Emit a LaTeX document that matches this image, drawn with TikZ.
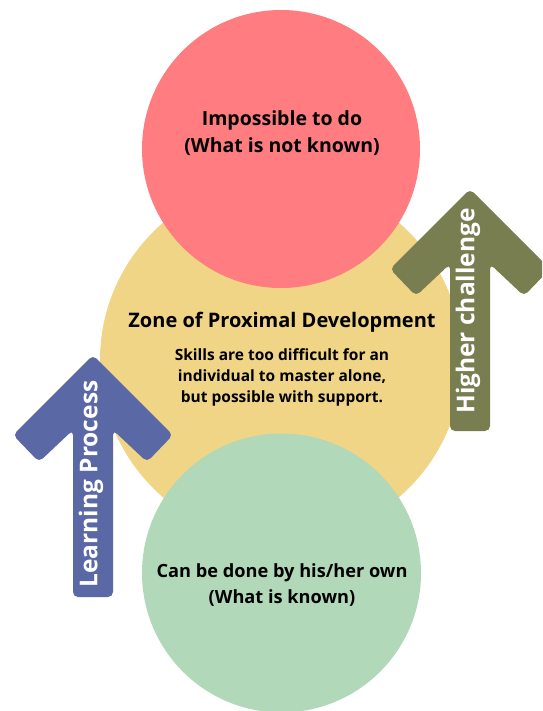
\documentclass[tikz,border=0pt]{standalone}
\usepackage{fontspec}
\setmainfont{Open Sans}
\definecolor{cred}{RGB}{255,124,128}
\definecolor{cyellow}{RGB}{240,213,134}
\definecolor{cgreen}{RGB}{177,216,185}
\definecolor{cblue}{RGB}{91,104,166}
\definecolor{colive}{RGB}{121,126,80}
\newcommand{\bigarrow}[4]{% color, center x, tip y, bottom y
  \fill[#1, rounded corners=5pt] (#2,#3) -- ++(80,80) -- ++(-26,27) -- ++(-34,-32)
   -- (#2+20,#4) -- (#2-20,#4) -- (#2-20,#3+75) -- ++(-34,32) -- ++(-26,-27) -- cycle;}
\tikzset{
  disc/.style={circle, draw=none, inner sep=0pt, minimum size=#1},
  title/.style={font=\bfseries\fontsize{19.5}{27}\selectfont, align=center, text=black},
  smalltitle/.style={font=\bfseries\fontsize{18.2}{26}\selectfont, align=center, text=black},
  ztitle/.style={font=\bfseries\fontsize{20}{24}\selectfont, align=center, text=black},
  body/.style={font=\bfseries\fontsize{15.5}{21}\selectfont, align=center, text=black},
  arrowlabel/.style={font=\bfseries\fontsize{24.5}{28}\selectfont, text=white, rotate=90}
}
\begin{document}
\begin{tikzpicture}[x=1pt,y=-1pt]
\useasboundingbox (0,0) rectangle (542,711);
\clip (0,0) rectangle (542,711);
\node[disc=362pt, fill=cyellow] (zpd) at (281,360) {};
\node[disc=278pt, fill=cred] (top) at (281,149) {};
\node[disc=279pt, fill=cgreen] (bottom) at (281.5,573) {};
\bigarrow{cblue}{93}{355}{597}
\bigarrow{colive}{470}{189}{431}
\node[arrowlabel] (lp) at (91,484) {Learning Process};
\node[arrowlabel] (hc) at (468,311) {Higher challenge};
\node[title] (toptext) at (282,133) {Impossible to do\\(What is not known)};
\node[ztitle] (zpdtitle) at (282,322) {Zone of Proximal Development};
\node[body] (zpdtext) at (282,377) {Skills are too difficult for an\\individual to master alone,\\but possible with support.};
\node[smalltitle] (bottomtext) at (282,585) {Can be done by his/her own\\(What is known)};
\end{tikzpicture}
\end{document}
